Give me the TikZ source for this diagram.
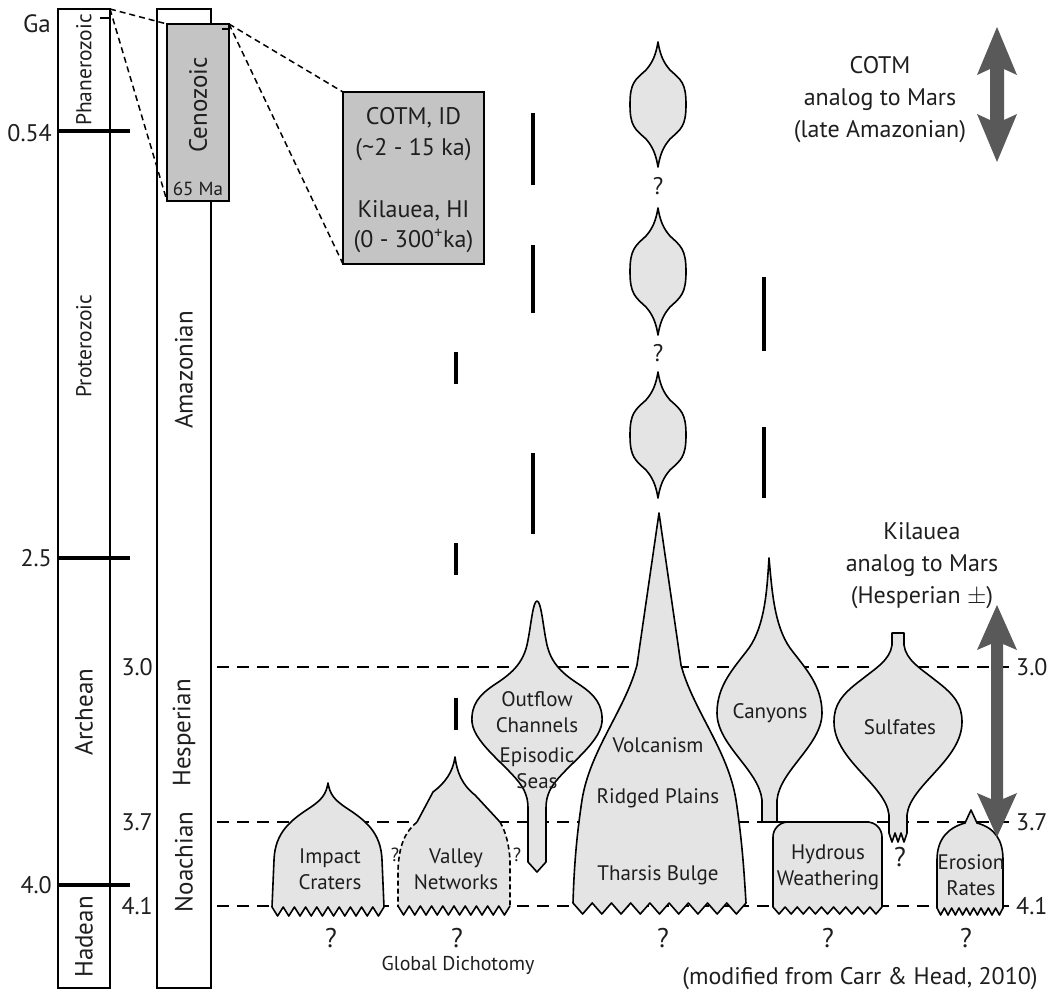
\documentclass[tikz,border=0pt]{standalone}
\usepackage{fontspec}
\setmainfont{PT Sans}
\definecolor{shapegray}{HTML}{E4E4E4}
\definecolor{boxgray}{HTML}{C4C4C4}
\definecolor{arrowgray}{HTML}{595959}
\definecolor{ink}{HTML}{1E1E1E}
\begin{document}
\begin{tikzpicture}[x=1pt,y=-1pt, every node/.style={text=ink},
  colbox/.style={draw=black, line width=1.4pt, fill=white, inner sep=0pt, outer sep=0pt, minimum height=979pt},
  graybox/.style={draw=black, line width=1.4pt, fill=boxgray, inner sep=0pt, outer sep=0pt},
  shp/.style={draw=black, line width=1.6pt, fill=shapegray, line join=round},
  agedash/.style={line width=1.6pt, dash pattern=on 12pt off 8pt},
  zoomdash/.style={line width=1.5pt, dash pattern=on 6pt off 4pt},
  ticka/.style={line width=3.5pt},
  bar/.style={line width=4pt},
  lbl/.style={font=\fontsize{21}{26}\selectfont, align=center, inner sep=0pt},
  boxtxt/.style={font=\fontsize{24}{28}\selectfont, align=center, inner sep=0pt},
  note/.style={font=\fontsize{24}{32}\selectfont, align=center, inner sep=0pt},
  axl/.style={font=\fontsize{24}{26}\selectfont, inner sep=0pt},
  collbl/.style={font=\fontsize{25}{28}\selectfont, rotate=90, inner sep=1pt},
  qm/.style={font=\fontsize{27}{30}\selectfont, inner sep=0pt},
  qms/.style={font=\fontsize{19}{22}\selectfont, inner sep=0pt},
  qml/.style={font=\fontsize{24}{26}\selectfont, inner sep=0pt}
]
\useasboundingbox (0,0) rectangle (1053,994);

% age guide lines
\foreach \yy in {667,822,906} \draw[agedash] (157,\yy) -- (1010,\yy);

% columns
\node[colbox, minimum width=52pt] (earth) at (84,498.5) {};
\node[colbox, minimum width=54pt] (mars) at (184,498.5) {};

% Earth ticks
\draw[ticka] (58,131) -- (130,131);
\draw[ticka] (58,558) -- (130,558);
\draw[ticka] (58,885) -- (130,885);
\draw[line width=1.3pt] (100,18) -- (110,18);

% column texts
\node[collbl, fill=white, font=\fontsize{21.5}{24}\selectfont] (phan) at (84,70) {Phanerozoic};
\node[collbl, font=\fontsize{21.5}{24}\selectfont] (prot) at (84,346) {Proterozoic};
\node[collbl] (arch) at (84,712) {Archean};
\node[collbl] (hade) at (84,937) {Hadean};
\node[collbl] (amaz) at (184,370) {Amazonian};
\node[collbl] (hesp) at (184,733) {Hesperian};
\node[collbl, fill=white] (noac) at (184,862) {Noachian};

% Cenozoic box
\node[graybox, minimum width=62pt, minimum height=177pt] (ceno) at (198,112.5) {};
\node[collbl] (cenot) at (198,105) {Cenozoic};
\node[inner sep=0pt, font=\fontsize{19}{22}\selectfont] (ma) at (198,189) {65 Ma};
\draw[line width=1.3pt] (222,29) -- (229,29);

% COTM box
\node[graybox, minimum width=141pt, minimum height=172pt] (cotm) at (413.5,178) {};
\node[boxtxt] (cotm1) at (413.5,118) {COTM, ID};
\node[boxtxt] (cotm2) at (413.5,150) {(\textasciitilde2 - 15 ka)};
\node[boxtxt] (kil1) at (413.5,211) {Kilauea, HI};
\node[boxtxt] (kil2) at (413.5,241) {(0 - 300\textsuperscript{+}ka)};

% zoom lines
\draw[zoomdash] (earth.north east) -- (ceno.north west);
\draw[zoomdash] (earth.north east) -- (ceno.south west);
\draw[zoomdash] (ceno.north east) -- (cotm.north west);
\draw[zoomdash] (ceno.north east) -- (cotm.south west);

% axis labels
\node[axl, anchor=east, font=\fontsize{25}{26}\selectfont] (ga) at (51,24) {Ga};
\node[axl, anchor=east] (l054) at (52,133) {0.54};
\node[axl, anchor=east] (l25) at (52,558) {2.5};
\node[axl, anchor=east] (l40) at (52,885) {4.0};
\node[axl, anchor=east] (l30) at (153,667) {3.0};
\node[axl, anchor=east] (l37) at (153,822) {3.7};
\node[axl, anchor=east] (l41) at (153,906) {4.1};
\node[axl, anchor=west] (r30) at (1016,667) {3.0};
\node[axl, anchor=west] (r37) at (1016,822) {3.7};
\node[axl, anchor=west] (r41) at (1016,906) {4.1};

% vertical bars
\draw[bar] (456,352) -- (456,384);
\draw[bar] (456,543) -- (456,575);
\draw[bar] (456,698) -- (456,730);
\draw[bar] (533,113) -- (533,185);
\draw[bar] (533,245) -- (533,313);
\draw[bar] (533,453) -- (533,534);
\draw[bar] (764,277) -- (764,351);
\draw[bar] (764,427) -- (764,498);

% lenses
\foreach \t/\b in {42/167, 208/335, 372/498}{
  \pgfmathsetmacro{\m}{(\t+\b)/2}
  \path[shp] (658,\t) .. controls (660,\t+12) and (663,\t+20) .. (670,\t+28)
    .. controls (681,\t+38) and (686,\m-22) .. (686,\m)
    .. controls (686,\m+22) and (681,\b-38) .. (670,\b-28)
    .. controls (663,\b-20) and (660,\b-12) .. (658,\b)
    .. controls (656,\b-12) and (653,\b-20) .. (646,\b-28)
    .. controls (635,\b-38) and (630,\m+22) .. (630,\m)
    .. controls (630,\m-22) and (635,\t+38) .. (646,\t+28)
    .. controls (653,\t+20) and (656,\t+12) .. (658,\t) -- cycle;
}
\node[qml] (q1) at (658,186) {?};
\node[qml] (q2) at (658,353) {?};

% Impact craters
\path[shp] (328,783) .. controls (330,795) and (335,800) .. (345,807)
  .. controls (365,820) and (381,832) .. (382,860) -- (384,907)
  \foreach \k in {1,...,20} { -- ({384-\k*112/20},{907+9*mod(\k,2)}) }
  -- (274,860) .. controls (275,832) and (291,820) .. (311,807)
  .. controls (321,800) and (326,795) .. (328,783) -- cycle;
\node[lbl] (imp) at (330,869) {Impact\\Craters};
\node[qm] (qi) at (331,938) {?};

% Valley networks
\fill[shapegray] (455,757) .. controls (457,772) and (462,785) .. (475,795) -- (500,822)
  .. controls (506,832) and (509,845) .. (510,860) -- (510,906)
  \foreach \k in {1,...,20} { -- ({510-\k*112/20},{906+9*mod(\k,2)}) }
  -- (398,870) .. controls (399,845) and (405,832) .. (417,822)
  -- (433,792) .. controls (445,783) and (453,772) .. (455,757) -- cycle;
\draw[line width=1.6pt, line join=round] (417,822) -- (433,792) .. controls (445,783) and (453,772) .. (455,757)
  .. controls (457,772) and (462,785) .. (475,795) -- (500,822);
\draw[line width=1.6pt, line join=round] (510,906)
  \foreach \k in {1,...,20} { -- ({510-\k*112/20},{906+9*mod(\k,2)}) };
\draw[line width=1.6pt, dash pattern=on 5pt off 3pt] (500,822) .. controls (506,832) and (509,845) .. (510,860) -- (510,906);
\draw[line width=1.6pt, dash pattern=on 5pt off 3pt] (417,822) .. controls (405,832) and (399,845) .. (398,870) -- (398,906);
\node[lbl] (val) at (456,869) {Valley\\Networks};
\node[qms] (qv1) at (395,855) {?};
\node[qms] (qv2) at (517,855) {?};
\node[qm] (qv) at (457,938) {?};
\node[inner sep=0pt, font=\fontsize{20}{22}\selectfont] (gd) at (458,965) {Global Dichotomy};

% Outflow channels
\path[shp] (537,601) .. controls (541,601) and (543,625) .. (546,640)
  .. controls (550,665) and (565,675) .. (580,685)
  .. controls (595,695) and (603,705) .. (602,722)
  .. controls (600,745) and (560,770) .. (550,790)
  .. controls (547,797) and (546,800) .. (546,810) -- (546,862) -- (537,872)
  -- (528,862) -- (528,810) .. controls (528,800) and (527,797) .. (524,790)
  .. controls (514,770) and (474,745) .. (472,722)
  .. controls (471,705) and (479,695) .. (494,685)
  .. controls (509,675) and (524,665) .. (528,640)
  .. controls (531,625) and (533,601) .. (537,601) -- cycle;
\node[lbl] (outf) at (537,712) {Outflow\\Channels};
\node[lbl] (epis) at (537,768) {Episodic\\Seas};

% Volcanism
\path[shp] (659,513) -- (681,665) .. controls (693,710) and (728,750) .. (736,800)
  .. controls (742,840) and (744,870) .. (746,903)
  \foreach \k in {1,...,18} { -- ({746-\k*173/18},{903+11*mod(\k,2)}) }
  .. controls (574,870) and (576,840) .. (582,800)
  .. controls (590,750) and (625,710) .. (637,665) -- cycle;
\node[lbl] (volc) at (658,745) {Volcanism};
\node[lbl] (ridg) at (658,798) {Ridged Plains};
\node[lbl] (thar) at (658,875) {Tharsis Bulge};
\node[qm] (qvo) at (663,938) {?};

% Canyons
\path[shp] (769,558) .. controls (772,590) and (774,625) .. (790,648)
  .. controls (805,668) and (822,685) .. (822,713)
  .. controls (822,745) and (780,770) .. (777,800) -- (777,822) -- (762,822) -- (762,800)
  .. controls (759,770) and (717,745) .. (717,713)
  .. controls (717,685) and (734,668) .. (749,648)
  .. controls (765,625) and (767,590) .. (769,558) -- cycle;
\node[lbl] (cany) at (770,713) {Canyons};

% Sulfates
\path[shp] (904,633) -- (904,645) .. controls (906,660) and (920,668) .. (935,680)
  .. controls (955,695) and (962,705) .. (962,722)
  .. controls (962,760) and (910,785) .. (907,815) -- (907,833)
  \foreach \k in {1,...,6} { -- ({907-\k*18/6},{833+9*mod(\k,2)}) }
  -- (889,815) .. controls (886,785) and (834,760) .. (834,722)
  .. controls (834,705) and (841,695) .. (861,680)
  .. controls (876,668) and (890,660) .. (892,645) -- (892,633) -- cycle;
\node[lbl] (sulf) at (900,727) {Sulfates};
\node[qm] (qs) at (900,857) {?};

% Hydrous weathering
\path[shp] (773,880) [rounded corners=15pt] -- (773,822) -- (882,822) -- (882,880) [sharp corners] -- (882,907)
  \foreach \k in {1,...,18} { -- ({882-\k*109/18},{907+7*mod(\k,2)}) } -- cycle;
\node[lbl] (hydr) at (828,867) {Hydrous\\Weathering};
\node[qm] (qh) at (828,938) {?};

% Erosion rates
\path[shp] (971,810) -- (977,823) .. controls (995,828) and (1003,840) .. (1003,860) -- (1003,908)
  \foreach \k in {1,...,18} { -- ({1003-\k*66/18},{908+7*mod(\k,2)}) }
  -- (937,860) .. controls (937,840) and (947,828) .. (965,823) -- cycle;
\node[lbl] (eros) at (971,875) {Erosion\\Rates};
\node[qm] (qe) at (966,938) {?};

% double arrows
\fill[arrowgray] (997,27) -- (1017,75) -- (1004,69) -- (1004,120) -- (1017,114) -- (997,162)
  -- (977,114) -- (990,120) -- (990,69) -- (977,75) -- cycle;
\fill[arrowgray] (997,605) -- (1017,650) -- (1003,644) -- (1003,799) -- (1017,793) -- (997,837)
  -- (977,793) -- (991,799) -- (991,644) -- (977,650) -- cycle;

% annotations
\node[note] (cotmn) at (880,100) {COTM\\analog to Mars\\(late Amazonian)};
\node[note] (kiln) at (922,566) {Kilauea\\analog to Mars\\(Hesperian $\pm$)};
\node[inner sep=0pt, font=\fontsize{24}{26}\selectfont] (src) at (860,979) {(modified from Carr \& Head, 2010)};
\end{tikzpicture}
\end{document}
